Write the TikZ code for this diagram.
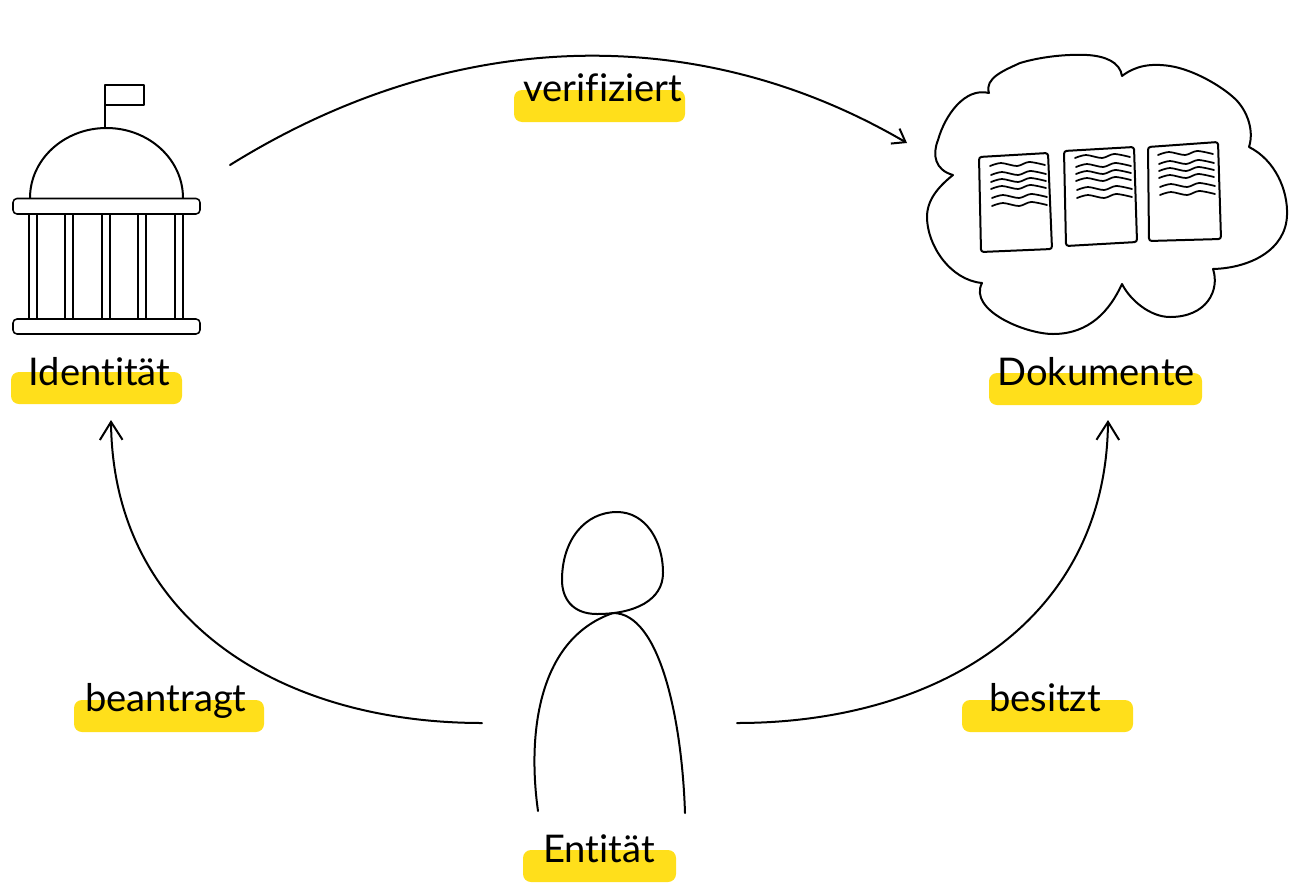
\documentclass[tikz,border=0pt]{standalone}
\usepackage{fontspec}
\setmainfont[RawFeature=-liga]{Lato}
\usetikzlibrary{arrows.meta}
\definecolor{marker}{HTML}{FFDF1B}
\tikzset{
    sketch/.style={line width=1.5pt, line cap=round, line join=round},
    thin sketch/.style={line width=1.15pt, line join=round},
    flow/.style={sketch, -{Straight Barb[length=13.5pt, width=17pt, line width=1.5pt]}},
    small flow/.style={sketch, -{Straight Barb[length=9pt, width=13pt, line width=1.5pt]}},
    hilite/.style={fill=marker, rounded corners=6pt},
    lbl/.style={anchor=base, inner sep=0pt, font=\fontsize{28.6}{33}\selectfont},
    wavelines/.pic={
        \foreach \dx/\dy in {0/0, 1/9, 1/16, 1/23, 2/32, 2/40}
            \draw[line width=1.3pt, line cap=round] plot[smooth] coordinates {(\dx,\dy) (\dx+11,\dy-3) (\dx+27,\dy) (\dx+39,\dy-4) (\dx+55,\dy-1)};
    }
}
\begin{document}
\begin{tikzpicture}[x=0.75pt, y=-0.75pt]
    \useasboundingbox (0,0) rectangle (1298,882);

    % markers behind the labels
    \fill[hilite] (11,372) rectangle (182,404);
    \fill[hilite] (989,373) rectangle (1202,405);
    \fill[hilite] (514,90) rectangle (685,122);
    \fill[hilite] (74,700) rectangle (264,732);
    \fill[hilite] (962,700) rectangle (1133,732);
    \fill[hilite] (523,850) rectangle (676,882);

    \node[lbl] (identitaet) at (99.5,385) {Identität};
    \node[lbl] (dokumente)  at (1096,385) {Dokumente};
    \node[lbl] (verifiziert) at (603,101.5) {verifiziert};
    \node[lbl] (beantragt)  at (166,711) {beantragt};
    \node[lbl] (besitzt)    at (1045,711) {besitzt};
    \node[lbl] (entitaet)   at (599,862) {Entität};

    % building
    \draw[thin sketch] (105,128) -- (105,85) -- (144,85) -- (144,105) -- (105,105);
    \draw[sketch] (30,198) arc[start angle=180, end angle=0, x radius=76.5, y radius=-70];
    \draw[thin sketch, rounded corners=3pt] (13,198.5) rectangle (200,214);
    \draw[thin sketch, rounded corners=3pt] (13,319) rectangle (200,334);
    \foreach \cx in {29,65,102,138,175}
        \draw[thin sketch] (\cx,214) -- (\cx,319) (\cx+8,214) -- (\cx+8,319);

    % cloud
    \draw[sketch] (989,93) .. controls (984,78) and (1005,70) .. (1020,63)
        .. controls (1040,57) and (1065,54) .. (1087,55)
        .. controls (1105,56) and (1120,62) .. (1122,76)
        .. controls (1135,66) and (1150,63) .. (1170,66)
        .. controls (1195,70) and (1222,87) .. (1233,97)
        .. controls (1245,107) and (1255,128) .. (1249,147)
        .. controls (1275,160) and (1288,190) .. (1287,215)
        .. controls (1286,250) and (1250,268) .. (1213,269)
        .. controls (1220,290) and (1207,317) .. (1170,317)
        .. controls (1150,317) and (1130,300) .. (1122,284)
        .. controls (1110,310) and (1090,334) .. (1053,334)
        .. controls (1025,334) and (968,310) .. (982,283)
        .. controls (950,280) and (927,245) .. (927,217)
        .. controls (927,200) and (938,187) .. (953,175)
        .. controls (935,170) and (932,155) .. (938,140)
        .. controls (945,115) and (965,87) .. (989,93);

    % papers
    \draw[sketch, rounded corners=2pt] (979,157) -- (1048,153) -- (1052,249) -- (981,252) -- cycle;
    \draw[sketch, rounded corners=2pt] (1064,151) -- (1134,147) -- (1137,242) -- (1066,246) -- cycle;
    \draw[sketch, rounded corners=2pt] (1148,147) -- (1218,142) -- (1221,239) -- (1149,241) -- cycle;
    \pic at (990,166) {wavelines};
    \pic at (1075,158) {wavelines};
    \pic at (1158,155) {wavelines};

    % person
    \draw[sketch] (617,512) .. controls (645,512) and (663,540) .. (663,573)
        .. controls (663,600) and (635,614) .. (597,614)
        .. controls (572,614) and (562,598) .. (562,580)
        .. controls (562,540) and (585,512) .. (617,512) -- cycle;
    \draw[sketch] (538,811) .. controls (528,740) and (535,640) .. (613,613)
        .. controls (660,613) and (682,720) .. (685,813);

    % connector ends
    \coordinate (govout) at (230,165);
    \coordinate (cloudin) at (907,143);
    \coordinate (personleft) at (482,723);
    \coordinate (personright) at (737,723);
    \coordinate (govin) at (111,420);
    \coordinate (docsin) at (1108,420);

    \draw[small flow] (govout) .. controls (455,25) and (700,22) .. (cloudin);
    \draw[flow] (personleft) .. controls (280,723) and (113,620) .. (govin);
    \draw[flow] (personright) .. controls (939,723) and (1106,620) .. (docsin);
\end{tikzpicture}
\end{document}
